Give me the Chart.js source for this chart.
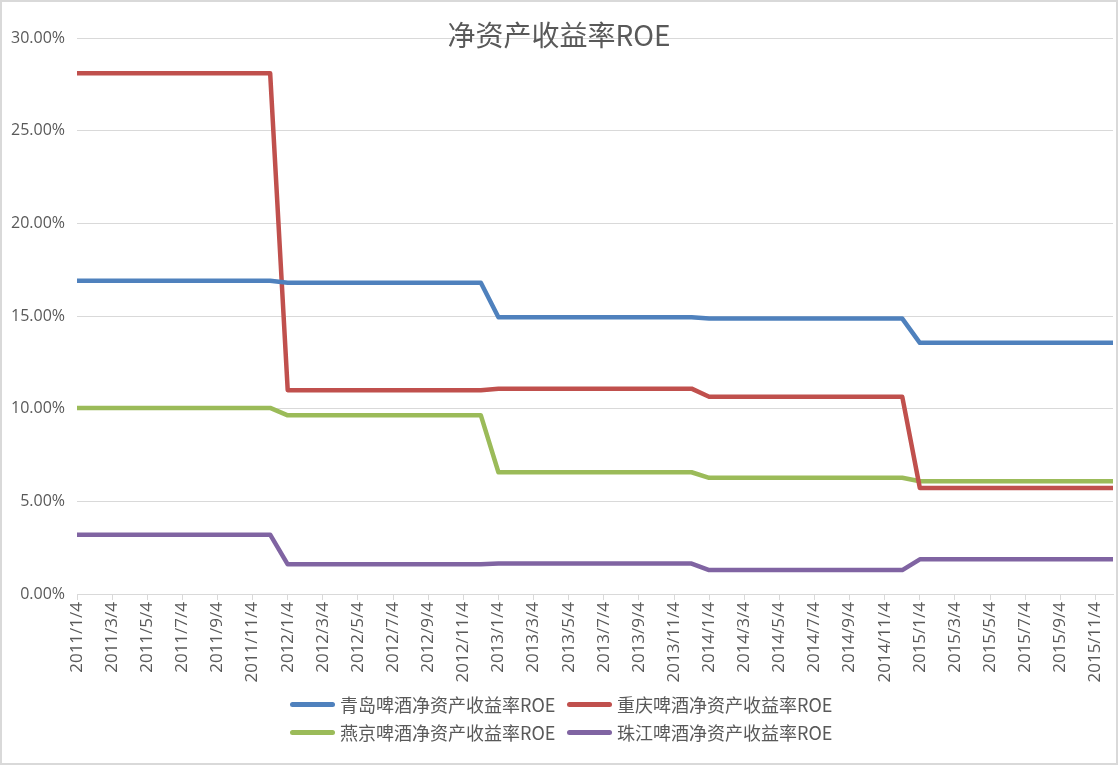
<!DOCTYPE html>
<html>
<head>
<meta charset="utf-8">
<script src="https://cdn.jsdelivr.net/npm/chart.js@4.4.1/dist/chart.umd.min.js"></script>
<style>
  html, body { margin: 0; padding: 0; background: #fff; }
  #wrap { position: relative; width: 1118px; height: 765px; overflow: hidden; }
  #c { position: absolute; left: 0; top: 0; }
  #title { position: absolute; left: 0; top: 15px; width: 1118px; text-align: center;
           font-family: "Noto Sans CJK SC", "Noto Sans", sans-serif; font-size: 28px; color: #595959; line-height: 38px; }
  #legend { position: absolute; left: 290px; top: 690px; display: grid; grid-template-columns: 277px 277px; grid-auto-rows: 28px;
            font-family: "Noto Sans CJK SC", "Noto Sans", sans-serif; font-size: 18px; color: #595959; }
  .item { display: flex; align-items: center; white-space: nowrap; }
  .swatch { width: 45px; height: 5px; border-radius: 3px; margin-right: 5px; flex: none; }
  #frame { position: absolute; left: 0; top: 0; width: 1118px; height: 765px; box-sizing: border-box; border: 2px solid #d9d9d9; pointer-events: none; }
</style>
</head>
<body>
<div id="wrap">
  <canvas id="c" width="1118" height="765"></canvas>
  <div id="title">净资产收益率ROE</div>
  <div id="legend"></div>
  <div id="frame"></div>
</div>
<script>
const categories = [
  '2011/1/4','2011/2/4','2011/3/4','2011/4/4','2011/5/4','2011/6/4','2011/7/4','2011/8/4','2011/9/4','2011/10/4','2011/11/4','2011/12/4',
  '2012/1/4','2012/2/4','2012/3/4','2012/4/4','2012/5/4','2012/6/4','2012/7/4','2012/8/4','2012/9/4','2012/10/4','2012/11/4','2012/12/4',
  '2013/1/4','2013/2/4','2013/3/4','2013/4/4','2013/5/4','2013/6/4','2013/7/4','2013/8/4','2013/9/4','2013/10/4','2013/11/4','2013/12/4',
  '2014/1/4','2014/2/4','2014/3/4','2014/4/4','2014/5/4','2014/6/4','2014/7/4','2014/8/4','2014/9/4','2014/10/4','2014/11/4','2014/12/4',
  '2015/1/4','2015/2/4','2015/3/4','2015/4/4','2015/5/4','2015/6/4','2015/7/4','2015/8/4','2015/9/4','2015/10/4','2015/11/4','2015/12/4'
];

const seriesNames = ['青岛啤酒净资产收益率ROE', '重庆啤酒净资产收益率ROE', '燕京啤酒净资产收益率ROE', '珠江啤酒净资产收益率ROE'];

const tsingtao = [
  16.90,16.90,16.90,16.90,16.90,16.90,16.90,16.90,16.90,16.90,16.90,16.90,
  16.79,16.79,16.79,16.79,16.79,16.79,16.79,16.79,16.79,16.79,16.79,16.79,
  14.93,14.93,14.93,14.93,14.93,14.93,14.93,14.93,14.93,14.93,14.93,14.93,
  14.86,14.86,14.86,14.86,14.86,14.86,14.86,14.86,14.86,14.86,14.86,14.86,
  13.55,13.55,13.55,13.55,13.55,13.55,13.55,13.55,13.55,13.55,13.55,13.55
];
const chongqing = [
  28.10,28.10,28.10,28.10,28.10,28.10,28.10,28.10,28.10,28.10,28.10,28.10,
  11.00,11.00,11.00,11.00,11.00,11.00,11.00,11.00,11.00,11.00,11.00,11.00,
  11.08,11.08,11.08,11.08,11.08,11.08,11.08,11.08,11.08,11.08,11.08,11.08,
  10.64,10.64,10.64,10.64,10.64,10.64,10.64,10.64,10.64,10.64,10.64,10.64,
  5.72,5.72,5.72,5.72,5.72,5.72,5.72,5.72,5.72,5.72,5.72,5.72
];
const yanjing = [
  10.04,10.04,10.04,10.04,10.04,10.04,10.04,10.04,10.04,10.04,10.04,10.04,
  9.64,9.64,9.64,9.64,9.64,9.64,9.64,9.64,9.64,9.64,9.64,9.64,
  6.57,6.57,6.57,6.57,6.57,6.57,6.57,6.57,6.57,6.57,6.57,6.57,
  6.27,6.27,6.27,6.27,6.27,6.27,6.27,6.27,6.27,6.27,6.27,6.27,
  6.08,6.08,6.08,6.08,6.08,6.08,6.08,6.08,6.08,6.08,6.08,6.08
];
const zhujiang = [
  3.20,3.20,3.20,3.20,3.20,3.20,3.20,3.20,3.20,3.20,3.20,3.20,
  1.60,1.60,1.60,1.60,1.60,1.60,1.60,1.60,1.60,1.60,1.60,1.60,
  1.64,1.64,1.64,1.64,1.64,1.64,1.64,1.64,1.64,1.64,1.64,1.64,
  1.29,1.29,1.29,1.29,1.29,1.29,1.29,1.29,1.29,1.29,1.29,1.29,
  1.87,1.87,1.87,1.87,1.87,1.87,1.87,1.87,1.87,1.87,1.87,1.87
];

const yTicks = [0, 5, 10, 15, 20, 25, 30];

const colors = ['#4F81BD', '#C0504D', '#9BBB59', '#8064A2'];
const seriesData = [tsingtao, chongqing, yanjing, zhujiang];

const yFont = { family: '"Open Sans", "Noto Sans", sans-serif', size: 16 };
const xFont = { family: '"Open Sans", "Noto Sans", sans-serif', size: 17 };
const textColor = '#595959';
const gridColor = '#d9d9d9';

const chart = new Chart(document.getElementById('c'), {
  type: 'line',
  data: {
    labels: categories,
    datasets: seriesData.map((d, i) => ({
      label: seriesNames[i],
      data: d,
      borderColor: colors[i],
      backgroundColor: colors[i],
      borderWidth: 4.5,
      pointRadius: 0,
      tension: 0,
      fill: false,
      borderJoinStyle: 'round',
      borderCapStyle: 'butt'
    }))
  },
  options: {
    responsive: false,
    animation: false,
    devicePixelRatio: 1,
    layout: { padding: { left: 10, right: 5, top: 38, bottom: 0 } },
    plugins: {
      legend: { display: false },
      title: { display: false },
      tooltip: { enabled: false }
    },
    scales: {
      x: {
        type: 'category',
        offset: false,
        grid: {
          drawOnChartArea: false,
          drawTicks: true,
          tickLength: 6,
          color: c => (c.index % 2 === 0 ? gridColor : 'rgba(0,0,0,0)')
        },
        border: { display: true, color: gridColor, width: 1 },
        ticks: {
          autoSkip: false,
          maxRotation: 90,
          minRotation: 90,
          padding: 2,
          font: xFont,
          color: textColor,
          callback: (v, i) => (i % 2 === 0 ? categories[i] : '')
        },
        afterFit: s => { s.height = 171; s.paddingRight = 0; s.paddingLeft = 0; }
      },
      y: {
        min: 0,
        max: 30,
        afterBuildTicks: s => { s.ticks = yTicks.map(v => ({ value: v })); },
        grid: { color: gridColor, drawTicks: false, lineWidth: 1 },
        border: { display: false },
        ticks: {
          padding: 12,
          font: yFont,
          color: textColor,
          callback: v => Number(v).toFixed(2) + '%'
        },
        afterFit: s => { s.width = 67; }
      }
    }
  }
});

const legend = document.getElementById('legend');
seriesNames.forEach((name, i) => {
  const item = document.createElement('div');
  item.className = 'item';
  const sw = document.createElement('span');
  sw.className = 'swatch';
  sw.style.background = colors[i];
  const tx = document.createElement('span');
  tx.textContent = name;
  item.appendChild(sw);
  item.appendChild(tx);
  legend.appendChild(item);
});
</script>
</body>
</html>
